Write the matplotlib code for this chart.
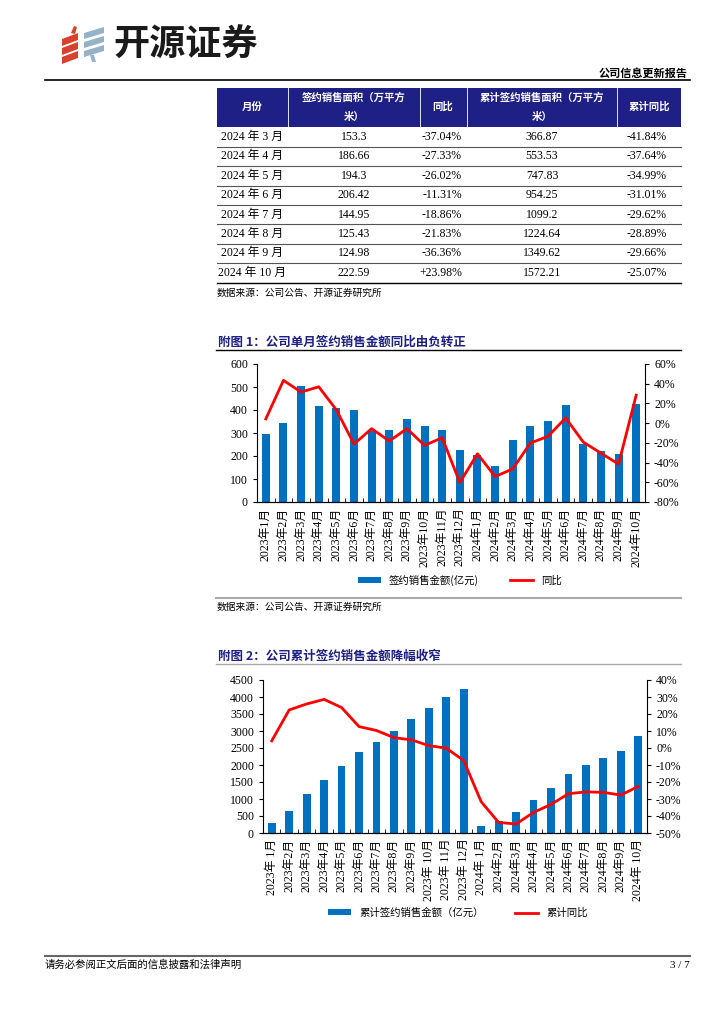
import matplotlib
matplotlib.use('Agg')
import matplotlib.pyplot as plt
from matplotlib.patches import Rectangle, Polygon
from matplotlib.lines import Line2D

plt.rcParams['font.family'] = ['Noto Sans CJK SC', 'DejaVu Sans']
SERIF = ['Liberation Serif', 'Noto Sans CJK SC']
NAVY = '#1E2085'
BLUE = '#0070C0'
RED = '#FF0000'

# table data
tbl_months = ['2024 年 3 月', '2024 年 4 月', '2024 年 5 月', '2024 年 6 月',
              '2024 年 7 月', '2024 年 8 月', '2024 年 9 月', '2024 年 10 月']
tbl_area = ['153.3', '186.66', '194.3', '206.42', '144.95', '125.43', '124.98', '222.59']
tbl_yoy = ['-37.04%', '-27.33%', '-26.02%', '-11.31%', '-18.86%', '-21.83%', '-36.36%', '+23.98%']
tbl_cum_area = ['366.87', '553.53', '747.83', '954.25', '1099.2', '1224.64', '1349.62', '1572.21']
tbl_cum_yoy = ['-41.84%', '-37.64%', '-34.99%', '-31.01%', '-29.62%', '-28.89%', '-29.66%', '-25.07%']

# chart data
months = ['2023年1月', '2023年2月', '2023年3月', '2023年4月', '2023年5月', '2023年6月',
          '2023年7月', '2023年8月', '2023年9月', '2023年10月', '2023年11月', '2023年12月',
          '2024年1月', '2024年2月', '2024年3月', '2024年4月', '2024年5月', '2024年6月',
          '2024年7月', '2024年8月', '2024年9月', '2024年10月']
months2 = ['2023年 1月', '2023年2月', '2023年3月', '2023年4月', '2023年5月', '2023年6月',
           '2023年7月', '2023年8月', '2023年9月', '2023年 10月', '2023年 11月', '2023年 12月',
           '2024年 1月', '2024年2月', '2024年3月', '2024年4月', '2024年5月', '2024年6月',
           '2024年7月', '2024年8月', '2024年9月', '2024年 10月']
monthly_sales = [295, 343, 504, 418, 409, 402, 310, 313, 361, 332, 313, 228,
                 204, 156, 271, 330, 352, 421, 252, 221, 208, 424]
monthly_yoy = [4.3, 43.4, 31.5, 36.9, 13.5, -21.2, -5.6, -18.2, -5.6, -22.6, -14.8, -60.3,
               -31.1, -54.2, -46.4, -20.2, -13.4, 5.3, -19.2, -30.4, -41.6, 28.4]
cum_sales = [295, 638, 1142, 1560, 1969, 2371, 2681, 2994, 3355, 3680, 4000, 4230,
             205, 352, 626, 959, 1311, 1742, 1996, 2211, 2417, 2847]
cum_yoy = [4.2, 22.4, 25.9, 28.6, 23.8, 12.6, 10.3, 6.1, 4.8, 1.4, -0.1, -7.4,
           -31.6, -43.8, -44.7, -37.9, -33.2, -26.9, -25.8, -26.1, -27.7, -22.6]

W, H = 724, 1024
fig = plt.figure(figsize=(7.24, 10.24), dpi=100)


def fx(x):
    return x / W


def fy(y):
    return 1 - y / H


def hline(x0, x1, y, color='black', lw=1.0):
    fig.add_artist(Line2D([fx(x0), fx(x1)], [fy(y), fy(y)], color=color, lw=lw))


def poly(pts, color):
    fig.add_artist(Polygon([(fx(x), fy(y)) for x, y in pts], closed=True, color=color, lw=0))


# header: logo
for yc in (37, 46, 55):
    poly([(62, yc + 2), (78, yc - 4), (78, yc + 3), (62, yc + 9)], '#D9412E')
poly([(71, 33), (74, 26), (77, 27), (75, 34)], '#D9412E')
for yc in (31, 40, 49):
    poly([(84, yc + 2), (104, yc - 4), (104, yc + 2), (84, yc + 8)], '#94B3C7')
poly([(90, 55), (94, 55), (96, 62), (92, 62)], '#94B3C7')
fig.text(fx(113), fy(45), '开源证券', fontsize=26, fontweight='bold', color='#1A1A1A', va='center')
fig.text(fx(688), fy(73), '公司信息更新报告', fontsize=8, fontweight='bold', ha='right', va='center')
hline(45, 690, 80, lw=1.2)

# table
cols = [217, 288, 420, 467, 617, 681]
fig.add_artist(Rectangle((fx(217), fy(127)), fx(681) - fx(217), fy(88) - fy(127),
                         color=NAVY, lw=0))
for c in cols[1:-1]:
    fig.add_artist(Line2D([fx(c), fx(c)], [fy(127), fy(88)], color='white', lw=0.6))
hdr_font = dict(fontsize=7.5, fontweight='bold', color='white', va='center', ha='center')
fig.text(fx(252), fy(107), '月份', **hdr_font)
fig.text(fx(354), fy(98), '签约销售面积（万平方', **hdr_font)
fig.text(fx(354), fy(117), '米）', **hdr_font)
fig.text(fx(443), fy(107), '同比', **hdr_font)
fig.text(fx(542), fy(98), '累计签约销售面积（万平方', **hdr_font)
fig.text(fx(542), fy(117), '米）', **hdr_font)
fig.text(fx(649), fy(107), '累计同比', **hdr_font)
row_h = 19.4
for i in range(len(tbl_months)):
    yc = 137 + i * row_h
    tf = dict(fontsize=8.5, va='center', family=SERIF)
    fig.text(fx(252), fy(yc), tbl_months[i], ha='center', **tf)
    fig.text(fx(354), fy(yc), tbl_area[i], ha='center', **tf)
    fig.text(fx(462), fy(yc), tbl_yoy[i], ha='right', **tf)
    fig.text(fx(542), fy(yc), tbl_cum_area[i], ha='center', **tf)
    fig.text(fx(667), fy(yc), tbl_cum_yoy[i], ha='right', **tf)
    last = i == len(tbl_months) - 1
    hline(217, 681, yc + row_h / 2, color='black' if last else '#555555', lw=1.0 if last else 0.8)
fig.text(fx(217), fy(293), '数据来源：公司公告、开源证券研究所', fontsize=7, va='center')


def combo_chart(rect, bars, line, labels, ylim_l, yticks_l, ylim_r, yticks_r, bar_lbl, line_lbl,
                leg_xy, colsp):
    ax = fig.add_axes(rect)
    x = list(range(len(bars)))
    b = ax.bar(x, bars, width=0.45, color=BLUE, label=bar_lbl, zorder=2)
    ax.set_xlim(-0.5, len(bars) - 0.5)
    ax.set_ylim(*ylim_l)
    ax.set_yticks(yticks_l)
    ax.set_xticks(x)
    ax.set_xticklabels(labels, rotation=90, family=SERIF, fontsize=8.5)
    ax.set_xticks([i + 0.5 for i in x[:-1]], minor=True)
    ax.tick_params(axis='x', which='major', length=0, pad=4)
    ax.tick_params(axis='x', which='minor', length=3, direction='in')
    ax.tick_params(axis='y', length=3, labelsize=8.5)
    for t in ax.get_yticklabels():
        t.set_family(SERIF)
    ax.spines['top'].set_visible(False)
    ax.spines['right'].set_visible(False)
    ax2 = ax.twinx()
    ln, = ax2.plot(x, line, color=RED, lw=2, label=line_lbl, zorder=3)
    ax2.set_ylim(*ylim_r)
    ax2.set_yticks(yticks_r)
    ax2.set_yticklabels([f'{v}%' for v in yticks_r], family=SERIF, fontsize=8.5)
    ax2.tick_params(axis='y', length=3)
    ax2.spines['top'].set_visible(False)
    ax2.spines['left'].set_visible(False)
    fig.legend([b, ln], [bar_lbl, line_lbl], loc='center', bbox_to_anchor=(fx(leg_xy[0]), fy(leg_xy[1])),
               ncol=2, frameon=False, fontsize=7.5, handlelength=2.2, columnspacing=colsp,
               handleheight=0.5)
    return ax


# chart 1
fig.text(fx(218), fy(342), '附图 1：公司单月签约销售金额同比由负转正', fontsize=9, fontweight='bold',
         color=NAVY, va='center')
hline(216, 681, 350, color='black', lw=1.0)
combo_chart([fx(257), fy(502), fx(645) - fx(257), fy(364) - fy(502)],
            monthly_sales, monthly_yoy, months, (0, 600), list(range(0, 601, 100)),
            (-80, 60), list(range(-80, 61, 20)), '签约销售金额(亿元)', '同比', (460, 580), 3.0)
hline(216, 681, 598, color='#AAAAAA', lw=1.5)
fig.text(fx(217), fy(607), '数据来源：公司公告、开源证券研究所', fontsize=7, va='center')

# chart 2
fig.text(fx(218), fy(656), '附图 2：公司累计签约销售金额降幅收窄', fontsize=9, fontweight='bold',
         color=NAVY, va='center')
hline(216, 681, 664, color='#AAAAAA', lw=1.0)
combo_chart([fx(263), fy(833), fx(647) - fx(263), fy(680) - fy(833)],
            cum_sales, cum_yoy, months2, (0, 4500), list(range(0, 4501, 500)),
            (-50, 40), list(range(-50, 41, 10)), '累计签约销售金额（亿元）', '累计同比', (458, 913), 3.0)

# footer
hline(45, 690, 956, color='#666666', lw=1.5)
fig.text(fx(45), fy(965), '请务必参阅正文后面的信息披露和法律声明', fontsize=7.5, va='center')
fig.text(fx(690), fy(965), '3 / 7', fontsize=8, va='center', ha='right', family=SERIF)

fig.savefig('out.png', dpi=100)
